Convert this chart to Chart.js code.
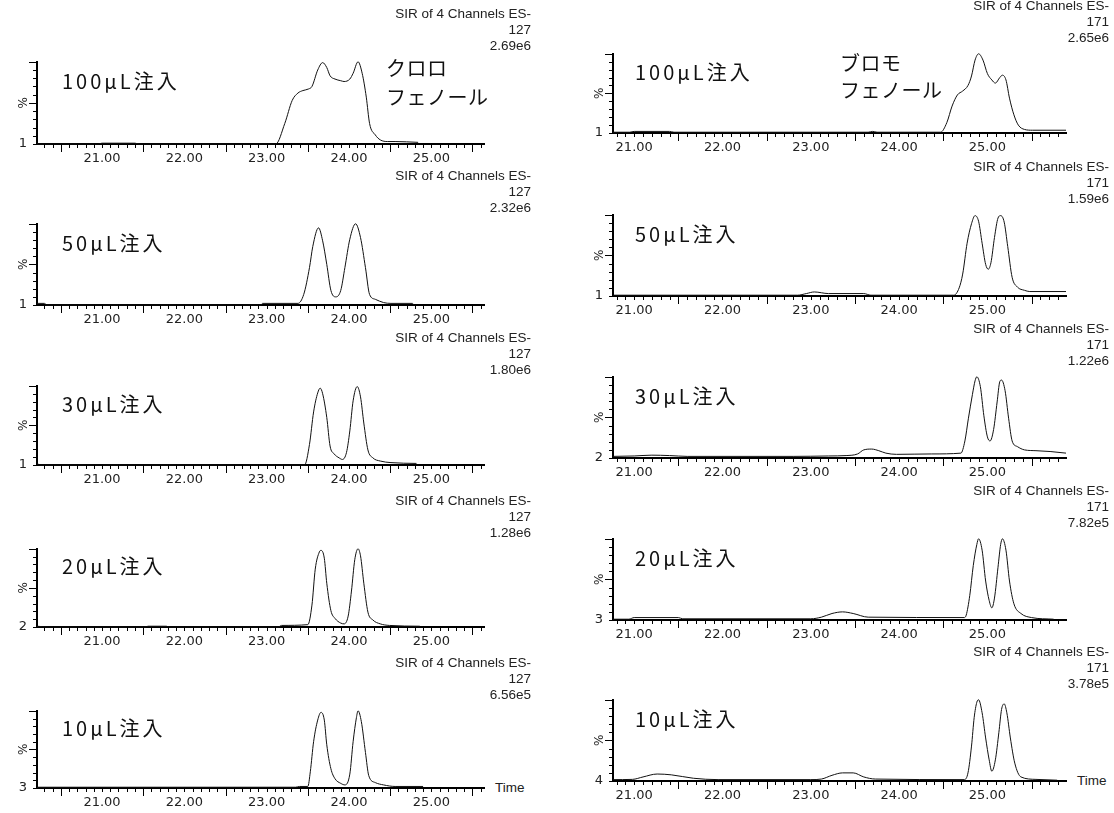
<!DOCTYPE html>
<html>
<head>
<meta charset="utf-8">
<script src="https://cdn.jsdelivr.net/npm/chart.js@4.4.0/dist/chart.umd.min.js"></script>
<style>
  body { margin: 0; background: #fff; width: 1114px; height: 813px; position: relative; overflow: hidden; }
  canvas { position: absolute; }
  .hdr { position: absolute; text-align: right; font: 13.5px/16px "Liberation Sans", Arial, sans-serif; color: #222; white-space: nowrap; }
  .jp { position: absolute; font: 20px/24px "Noto Sans CJK JP", sans-serif; color: #111; white-space: nowrap; }
  .time { position: absolute; font: 13.5px/16px "Liberation Sans", Arial, sans-serif; color: #222; }
</style>
</head>
<body>
<script>
// --- data (time in min, intensity in %) ---
const injLabels = ['100μL注入', '50μL注入', '30μL注入', '20μL注入', '10μL注入'];
const clScale = ['2.69e6', '2.32e6', '1.80e6', '1.28e6', '6.56e5'];
const brScale = ['2.65e6', '1.59e6', '1.22e6', '7.82e5', '3.78e5'];
const clOffset = ['1', '1', '1', '2', '3'];
const brOffset = ['1', '1', '2', '3', '4'];
const clTicks = [21, 22, 23, 24, 25];
const brTicks = [21, 22, 23, 24, 25];

// chlorophenol, m/z 127
const cl100T = [20.21, 20.95, 21.0, 21.4, 21.45, 23.11, 23.22, 23.31, 23.38, 23.44, 23.51, 23.55, 23.62, 23.68, 23.73, 23.77, 23.83, 23.90, 23.94, 24.01, 24.05, 24.11, 24.16, 24.21, 24.25, 24.32, 24.38, 24.47, 24.56, 24.84];
const cl100Y = [0, 0, 1, 1, 0, 0, 25, 53, 62, 65, 67, 70, 90, 99, 93, 83, 79, 77, 76, 79, 86, 100, 86, 57, 25, 11, 5, 3, 3, 2];
const cl50T = [20.21, 20.3, 20.33, 22.93, 22.95, 23.38, 23.45, 23.52, 23.56, 23.63, 23.68, 23.73, 23.78, 23.84, 23.90, 23.95, 24.01, 24.08, 24.14, 24.20, 24.25, 24.32, 24.42, 24.51, 24.77, 24.79];
const cl50Y = [2, 2, 0, 0, 2, 2, 13, 46, 72, 95, 79, 50, 18, 10, 18, 46, 81, 100, 83, 46, 13, 7, 3, 2, 2, 0];
const cl30T = [20.21, 20.25, 23.46, 23.52, 23.57, 23.62, 23.65, 23.68, 23.73, 23.77, 23.82, 23.88, 23.92, 23.97, 24.01, 24.05, 24.10, 24.14, 24.18, 24.23, 24.29, 24.38, 24.51, 24.82];
const cl30Y = [2, 0, 0, 26, 67, 91, 97, 90, 60, 24, 14, 9, 7, 16, 43, 81, 99, 86, 53, 19, 9, 5, 3, 2];
const cl20T = [20.21, 20.35, 21.52, 21.56, 21.78, 21.82, 23.14, 23.18, 23.50, 23.55, 23.59, 23.64, 23.66, 23.70, 23.73, 23.78, 23.83, 23.90, 23.94, 23.99, 24.03, 24.07, 24.11, 24.14, 24.18, 24.23, 24.29, 24.38, 24.49, 24.86];
const cl20Y = [1, 0, 0, 1, 1, 0, 0, 2, 3, 28, 74, 96, 98, 88, 56, 21, 11, 5, 4, 14, 46, 86, 100, 91, 56, 19, 9, 4, 2, 1];
const cl10T = [20.21, 23.35, 23.40, 23.50, 23.53, 23.57, 23.62, 23.66, 23.70, 23.73, 23.78, 23.83, 23.90, 23.95, 24.01, 24.05, 24.09, 24.11, 24.15, 24.20, 24.24, 24.32, 24.42, 24.56, 24.90];
const cl10Y = [1, 1, 2, 2, 21, 60, 88, 98, 88, 56, 25, 12, 6, 4, 18, 60, 91, 100, 86, 46, 16, 7, 4, 2, 2];

// bromophenol, m/z 171
const br100T = [20.76, 20.95, 21.0, 21.4, 21.45, 23.65, 23.7, 23.75, 24.47, 24.54, 24.60, 24.66, 24.72, 24.78, 24.82, 24.86, 24.90, 24.95, 25.00, 25.05, 25.09, 25.14, 25.17, 25.21, 25.25, 25.30, 25.35, 25.42, 25.51, 25.89];
const br100Y = [1, 1, 2, 2, 1, 1, 2, 1, 1, 13, 34, 48, 53, 60, 72, 92, 100, 92, 75, 67, 63, 70, 73, 67, 44, 23, 10, 4.5, 3.5, 3.5];
const br50T = [20.76, 22.85, 22.95, 23.04, 23.2, 23.6, 23.68, 24.0, 24.62, 24.68, 24.72, 24.77, 24.82, 24.86, 24.90, 24.94, 24.98, 25.01, 25.04, 25.08, 25.12, 25.15, 25.19, 25.23, 25.28, 25.34, 25.42, 25.48, 25.89];
const br50Y = [1, 1, 3, 5, 3, 3, 1, 1, 1, 10, 27, 65, 89, 99, 92, 65, 39, 33, 41, 72, 96, 99, 91, 61, 23, 11, 7, 5.5, 5.5];
const br30T = [20.76, 21.0, 21.2, 21.4, 21.6, 22.8, 23.2, 23.4, 23.53, 23.6, 23.69, 23.77, 23.85, 23.97, 24.37, 24.70, 24.745, 24.785, 24.83, 24.86, 24.88, 24.92, 24.96, 25.0, 25.03, 25.07, 25.11, 25.14, 25.16, 25.2, 25.24, 25.28, 25.34, 25.42, 25.55, 25.71, 25.89];
const br30Y = [2, 2.5, 3.5, 3, 2, 2, 2.5, 3, 5, 10, 11, 9, 6, 4.5, 5, 6, 21, 49, 78, 95, 100, 88, 52, 26, 21, 35, 69, 94, 96, 83, 49, 21, 14, 10, 9, 8, 6];
const br20T = [20.76, 20.94, 21.0, 21.5, 21.55, 23.0, 23.12, 23.24, 23.36, 23.48, 23.65, 24.74, 24.76, 24.80, 24.84, 24.88, 24.90, 24.94, 24.98, 25.02, 25.05, 25.08, 25.12, 25.15, 25.17, 25.21, 25.25, 25.30, 25.38, 25.50, 25.75];
const br20Y = [1, 1, 3, 3, 1.5, 1.5, 3.5, 8, 10, 8, 3.5, 3, 6, 30, 67, 93, 100, 86, 48, 24, 15, 27, 65, 93, 100, 86, 48, 20, 8, 3, 1];
const br10T = [20.76, 20.98, 21.1, 21.26, 21.42, 21.67, 21.95, 23.0, 23.12, 23.24, 23.36, 23.48, 23.6, 23.73, 24.74, 24.78, 24.82, 24.85, 24.88, 24.90, 24.94, 24.98, 25.02, 25.05, 25.09, 25.13, 25.16, 25.19, 25.22, 25.26, 25.31, 25.38, 25.55, 25.79];
const br10Y = [1.7, 2, 5, 8.6, 7.6, 3.4, 1.7, 1.7, 2.4, 7, 10, 10, 5, 2.4, 1.7, 10, 43, 78, 97, 100, 84, 53, 26, 12, 26, 60, 88, 95, 84, 53, 22, 5, 2, 1];

// --- layout (pixels on the page) ---
const cols = [
  { left: 37, right: 484, xMin: 20.21, xMax: 25.64, hdrRight: 531, jpLeft: 62, channel: '127',
    tops: [48, 210, 372, 535, 697], bases: [144, 305, 465, 627, 788],
    traces: [[cl100T, cl100Y], [cl50T, cl50Y], [cl30T, cl30Y], [cl20T, cl20Y], [cl10T, cl10Y]],
    scale: clScale, offset: clOffset, ticks: clTicks,
    compound: ['クロロ', 'フェノール'], compLeft: 386, compY: [68, 97], timeLeft: 495 },
  { left: 613, right: 1066, xMin: 20.76, xMax: 25.89, hdrRight: 1109, jpLeft: 635, channel: '171',
    tops: [40, 201, 363, 525, 686], bases: [133, 296, 458, 620, 781],
    traces: [[br100T, br100Y], [br50T, br50Y], [br30T, br30Y], [br20T, br20Y], [br10T, br10Y]],
    scale: brScale, offset: brOffset, ticks: brTicks,
    compound: ['ブロモ', 'フェノール'], compLeft: 840, compY: [63, 90], timeLeft: 1077 }
];
const YW = 40, XH = 26, PT = 4, PR = 3;

// minor/major tick marks and the rotated % label, placed with the chart's own scales
const massTicks = {
  id: 'massTicks',
  afterDraw(chart) {
    const { ctx } = chart;
    const x = chart.scales.x, y = chart.scales.y;
    ctx.save();
    ctx.strokeStyle = '#000';
    ctx.lineWidth = 1;
    ctx.beginPath();
    for (let i = Math.ceil(x.min * 10); i <= Math.floor(x.max * 10); i++) {
      const px = Math.round(x.getPixelForValue(i / 10)) + 0.5;
      const len = i % 10 === 5 ? 7 : 3;
      ctx.moveTo(px, x.top);
      ctx.lineTo(px, x.top + len + 1);
    }
    for (let v = 0; v <= 100; v += 10) {
      const py = Math.round(y.getPixelForValue(v)) + 0.5;
      const len = (v === 50 || v === 100) ? 7 : 3;
      ctx.moveTo(y.right - len - 1, py);
      ctx.lineTo(y.right, py);
    }
    ctx.stroke();
    ctx.translate(y.right - 13, y.getPixelForValue(50));
    ctx.rotate(-Math.PI / 2);
    ctx.font = '12px "DejaVu Sans"';
    ctx.fillStyle = '#222';
    ctx.textAlign = 'center';
    ctx.textBaseline = 'middle';
    ctx.fillText('%', 0, 0);
    ctx.restore();
  }
};

function addText(cls, txt, css) {
  const d = document.createElement('div');
  d.className = cls;
  d.textContent = txt;
  Object.assign(d.style, css);
  document.body.appendChild(d);
  return d;
}

cols.forEach(col => {
  col.tops.forEach((top, r) => {
    const base = col.bases[r];
    const cv = document.createElement('canvas');
    const w = col.right - col.left + YW + PR;
    const h = base - top + PT + XH;
    cv.width = w; cv.height = h;
    cv.style.left = (col.left - YW) + 'px';
    cv.style.top = (top - PT) + 'px';
    document.body.appendChild(cv);

    const [T, Y] = col.traces[r];
    const tickVals = col.ticks;
    const offLabel = col.offset[r];

    new Chart(cv, {
      type: 'line',
      data: {
        datasets: [{
          data: T.map((t, i) => ({ x: t, y: Y[i] })),
          borderColor: '#111',
          borderWidth: 1,
          pointRadius: 0,
          cubicInterpolationMode: 'monotone',
          fill: false,
          clip: 4
        }]
      },
      options: {
        responsive: false,
        animation: false,
        devicePixelRatio: 1,
        events: [],
        layout: { padding: { top: PT, right: PR, left: 0, bottom: 0 } },
        plugins: { legend: { display: false }, tooltip: { enabled: false } },
        scales: {
          x: {
            type: 'linear',
            min: col.xMin,
            max: col.xMax,
            afterFit(s) { s.height = XH; },
            afterBuildTicks(s) { s.ticks = tickVals.map(v => ({ value: v })); },
            grid: { drawOnChartArea: false, drawTicks: false },
            border: { display: true, color: '#000', width: 2 },
            ticks: {
              autoSkip: false, maxRotation: 0, padding: 7, color: '#222',
              font: { family: 'DejaVu Sans', size: 13 },
              callback: v => Number(v).toFixed(2)
            }
          },
          y: {
            min: 0,
            max: 100,
            afterFit(s) { s.width = YW; },
            afterBuildTicks(s) { s.ticks = [{ value: 0 }]; },
            grid: { drawOnChartArea: false, drawTicks: false },
            border: { display: true, color: '#000', width: 2 },
            ticks: {
              padding: 10, color: '#222',
              font: { family: 'DejaVu Sans', size: 13 },
              callback: () => offLabel
            }
          }
        }
      },
      plugins: [massTicks]
    });

    // header block: "SIR of 4 Channels ES-" / channel / scale
    const hdr = addText('hdr', '', { top: (top - 42) + 'px', right: (1114 - col.hdrRight) + 'px' });
    ['SIR of 4 Channels ES-', col.channel, col.scale[r]].forEach(s => {
      const l = document.createElement('div');
      l.textContent = s;
      hdr.appendChild(l);
    });

    // injection volume label
    addText('jp', injLabels[r], {
      left: col.jpLeft + 'px',
      top: ((top + base) / 2 - 15 - 12) + 'px',
      letterSpacing: '3px'
    });

    if (r === 4) {
      addText('time', 'Time', { left: col.timeLeft + 'px', top: (base - 8) + 'px' });
    }
  });

  col.compound.forEach((s, i) => {
    addText('jp', s, { left: col.compLeft + 'px', top: (col.compY[i] - 12) + 'px', letterSpacing: '0.5px' });
  });
});
</script>
</body>
</html>
